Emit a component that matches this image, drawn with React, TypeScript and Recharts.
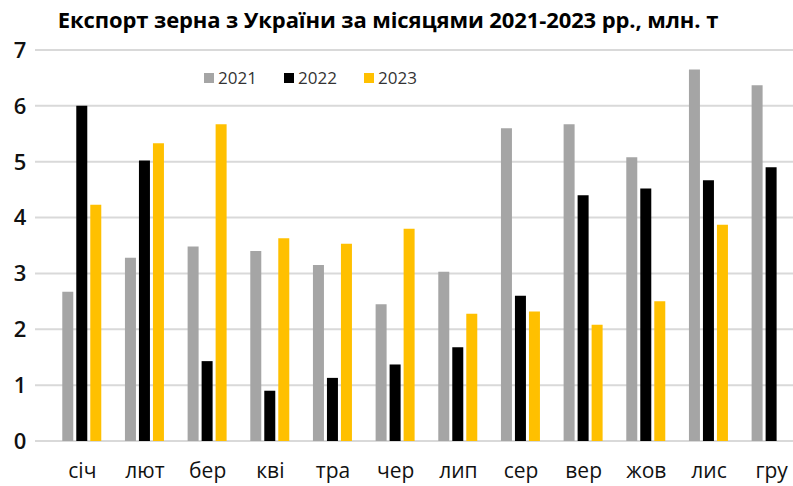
import { BarChart, Bar, XAxis, YAxis, CartesianGrid } from "recharts";

const months = ["січ", "лют", "бер", "кві", "тра", "чер", "лип", "сер", "вер", "жов", "лис", "гру"];
const y2021 = [2.67, 3.28, 3.48, 3.4, 3.15, 2.45, 3.03, 5.6, 5.67, 5.08, 6.65, 6.37];
const y2022 = [6.0, 5.02, 1.43, 0.9, 1.13, 1.37, 1.68, 2.6, 4.4, 4.52, 4.67, 4.9];
const y2023 = [4.23, 5.33, 5.67, 3.63, 3.53, 3.8, 2.28, 2.32, 2.08, 2.5, 3.87, null];
const yTicks = [0, 1, 2, 3, 4, 5, 6, 7];

const data = months.map((m, i) => ({
  month: m,
  a: y2021[i],
  b: y2022[i],
  c: y2023[i],
}));

const series = [
  { key: "a", name: "2021", color: "#a5a5a5" },
  { key: "b", name: "2022", color: "#000000" },
  { key: "c", name: "2023", color: "#ffc000" },
];

const font = "'Open Sans', sans-serif";

// the original picture is cut off on the right, so the chart is a bit wider than the frame
export default function App() {
  return (
    <div style={{ position: "absolute", left: 0, top: 0, width: 793, height: 486, background: "#fff", overflow: "hidden" }}>
      <BarChart
        width={810}
        height={486}
        data={data}
        margin={{ top: 50, right: 7, left: 0, bottom: 0 }}
        barGap={3}
        barCategoryGap="18%"
        style={{ position: "absolute", left: 0, top: 0 }}
      >
        <CartesianGrid vertical={false} stroke="#d9d9d9" strokeWidth={2} />
        <XAxis
          dataKey="month"
          axisLine={false}
          tickLine={false}
          height={45}
          padding={{ left: 16, right: 0 }}
          tick={{ fontSize: 21, fill: "#111", fontFamily: font }}
          dy={14}
        />
        <YAxis
          domain={[0, 7]}
          ticks={yTicks}
          width={35}
          axisLine={false}
          tickLine={false}
          tick={{ fontSize: 22, fill: "#111", fontFamily: font, fontWeight: 600, textAnchor: "middle" }}
          dx={-7}
        />
        {series.map((s) => (
          <Bar key={s.key} dataKey={s.key} name={s.name} fill={s.color} isAnimationActive={false} />
        ))}
      </BarChart>
      <div
        style={{
          position: "absolute",
          top: 4,
          left: 0,
          width: 776,
          textAlign: "center",
          fontFamily: font,
          fontWeight: 700,
          fontSize: 22,
          color: "#000",
          letterSpacing: -0.1,
        }}
      >
        Експорт зерна з України за місяцями 2021-2023 рр., млн. т
      </div>
      <div style={{ position: "absolute", top: 66, left: 204, display: "flex", fontFamily: font, fontSize: 17, color: "#333" }}>
        {series.map((s) => (
          <div key={s.key} style={{ display: "flex", alignItems: "center", gap: 4, width: 80 }}>
            <span style={{ width: 10, height: 10, background: s.color, display: "inline-block" }} />
            <span>{s.name}</span>
          </div>
        ))}
      </div>
    </div>
  );
}
